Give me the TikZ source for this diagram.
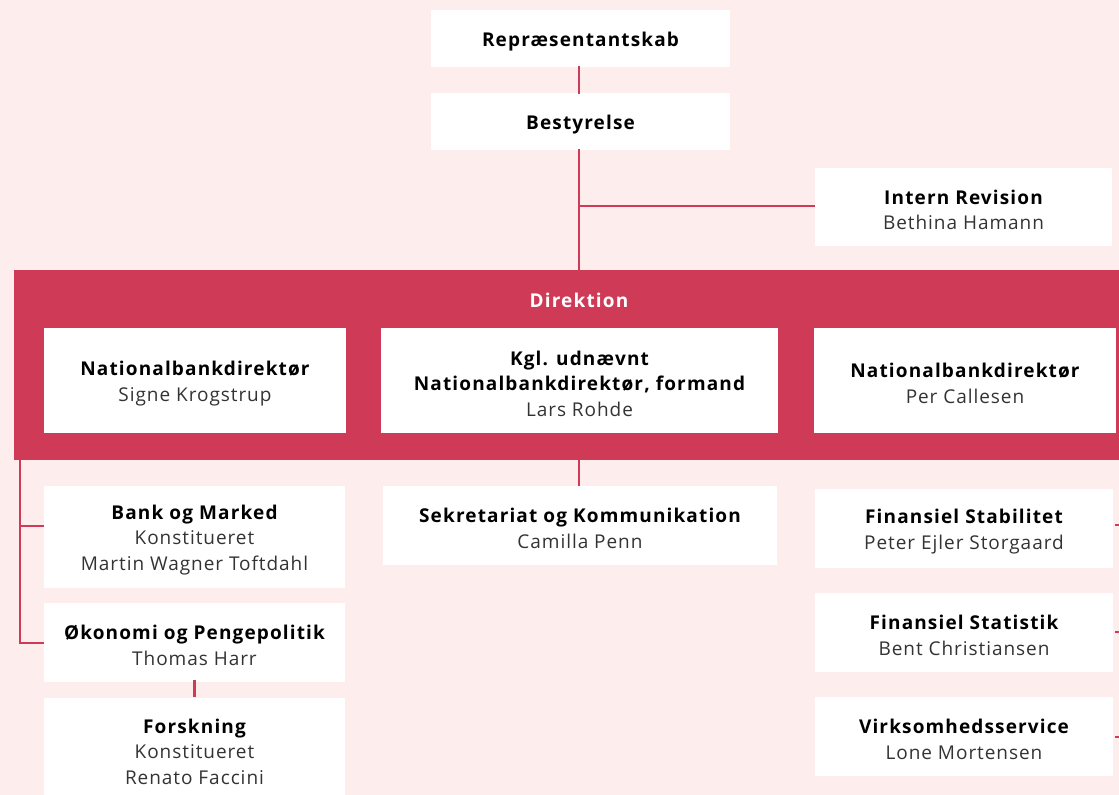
\documentclass[tikz,border=0pt]{standalone}
\usepackage{fontspec}
\setmainfont[LetterSpace=5]{Open Sans}
\newfontfamily\hdfont[LetterSpace=6]{Open Sans}
\definecolor{bgpink}{HTML}{FDEDED}
\definecolor{dnred}{HTML}{CF3A56}
\definecolor{txtgray}{HTML}{333333}
\tikzset{
  box/.style={fill=white, draw=none, inner sep=0pt},
  txt/.style={inner sep=0pt, align=center, text=txtgray, yshift=-3pt,
    font=\fontsize{19}{25.5}\selectfont},
  conn/.style={draw=dnred, line width=2.5pt},
}
\newcommand{\hd}[1]{{\hdfont\bfseries\color{black}#1}}
\newcommand{\obox}[5]{\node[box, minimum width=#3, minimum height=#4,
  label={[txt]center:{#5}}] (#1) at (#2) {};}
\begin{document}
\begin{tikzpicture}[x=1pt,y=-1pt]
\path[use as bounding box, fill=bgpink] (0,0) rectangle (1119,795);
\begin{scope}
\clip (0,0) rectangle (1119,795);
% top
\obox{rep}{580.5,38.5}{299}{57}{\hd{Repræsentantskab}}
\obox{best}{580.5,121.5}{299}{57}{\hd{Bestyrelse}}
\obox{intern}{963.5,207}{297}{78}{\hd{Intern Revision}\\Bethina Hamann}
% band
\node[fill=dnred, minimum width=1105, minimum height=190, inner sep=0pt] (band) at (566.5,365) {};
\node[text=white, font=\fontsize{19}{25.5}\selectfont, inner sep=0pt] (dirlbl) at (579,300) {\hdfont\bfseries Direktion};
\obox{nb1}{195,380.5}{302}{105}{\hd{Nationalbankdirektør}\\Signe Krogstrup}
\obox{form}{579.5,380.5}{397}{105}{\hd{Kgl. udnævnt}\\\hd{Nationalbankdirektør, formand}\\Lars Rohde}
\obox{nb2}{965,380.5}{302}{105}{\hd{Nationalbankdirektør}\\Per Callesen}
% below
\obox{sek}{580,525.5}{394}{79}{\hd{Sekretariat og Kommunikation}\\Camilla Penn}
\obox{bank}{194.5,537}{301}{102}{\hd{Bank og Marked}\\Konstitueret\\Martin Wagner Toftdahl}
\obox{oko}{194.5,642.5}{301}{79}{\hd{Økonomi og Pengepolitik}\\Thomas Harr}
\obox{forsk}{194.5,748.5}{301}{102}{\hd{Forskning}\\Konstitueret\\Renato Faccini}
\obox{fs}{964,528.5}{298}{79}{\hd{Finansiel Stabilitet}\\Peter Ejler Storgaard}
\obox{fst}{964,632.5}{298}{79}{\hd{Finansiel Statistik}\\Bent Christiansen}
\obox{vs}{964,736.5}{298}{79}{\hd{Virksomhedsservice}\\Lone Mortensen}
% connectors
\coordinate (jr) at (579,206);
\draw[conn] ([yshift=1]rep.south -| jr) -- ([yshift=-1]best.north -| jr);
\draw[conn] ([yshift=1]best.south -| jr) -- (band.north -| jr);
\draw[conn] (jr) -- (intern.west |- jr);
\draw[conn] (band.south -| jr) -- (sek.north -| jr);
\coordinate (lt) at (20,460);
\coordinate (lb) at (20,526);
\coordinate (lo) at (20,643);
\draw[conn] (lt) -- (lo) -- (oko.west |- lo);
\draw[conn] (lb) -- (bank.west |- lb);
\draw[conn] ([yshift=2]oko.south) -- (forsk.north);
\coordinate (s1) at (1125,525);
\coordinate (s2) at (1125,632);
\coordinate (s3) at (1125,737);
\draw[conn] ([xshift=2]fs.east |- s1) -- (s1);
\draw[conn] ([xshift=2]fst.east |- s2) -- (s2);
\draw[conn] ([xshift=2]vs.east |- s3) -- (s3);
\end{scope}
\end{tikzpicture}
\end{document}
